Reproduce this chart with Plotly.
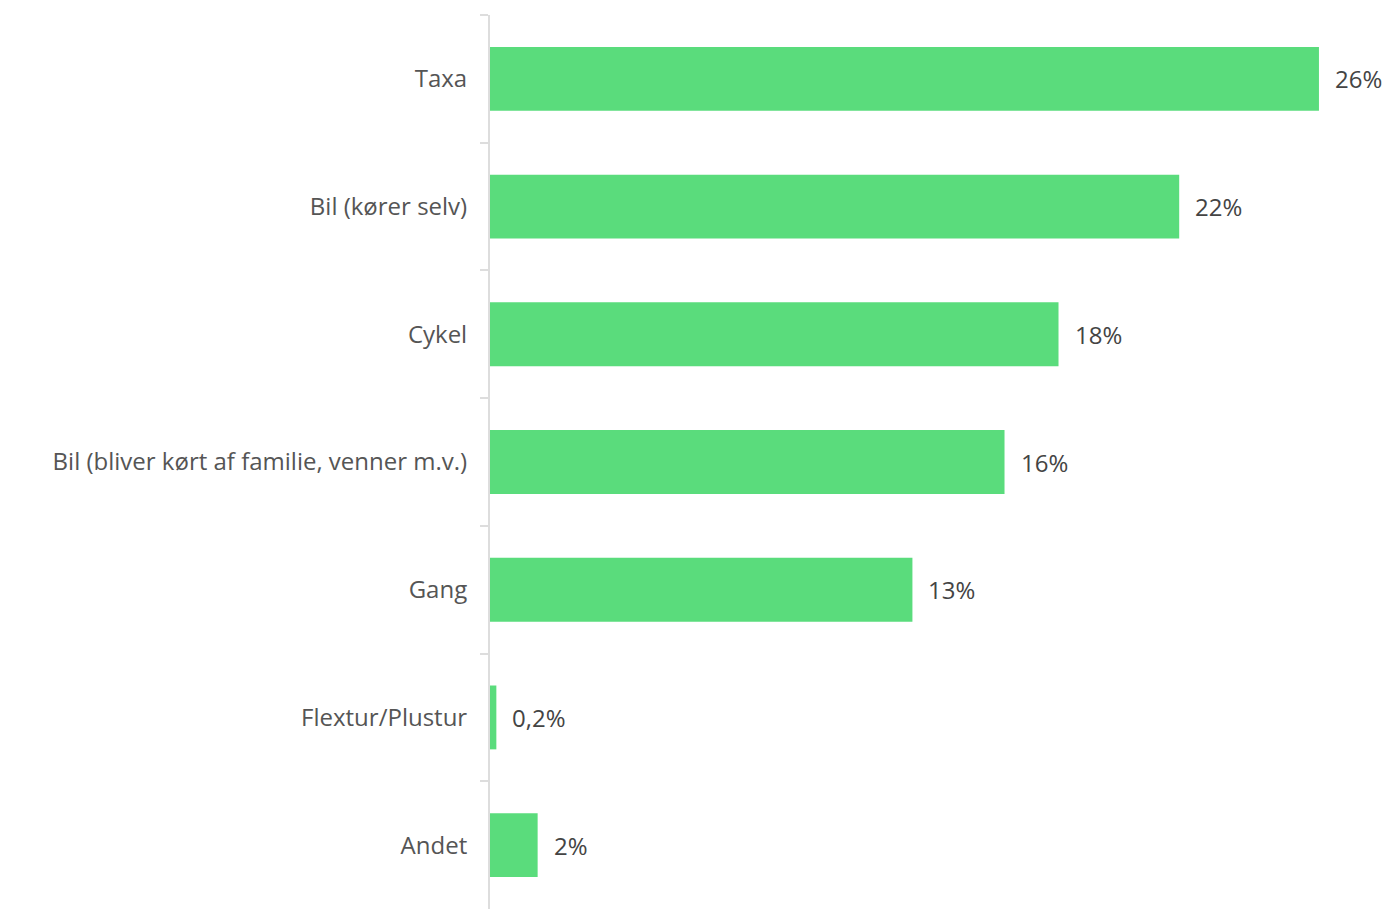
import plotly.graph_objects as go

categories = ["Taxa", "Bil (kører selv)", "Cykel", "Bil (bliver kørt af familie, venner m.v.)",
              "Gang", "Flextur/Plustur", "Andet"]
values = [26.1, 21.7, 17.9, 16.2, 13.3, 0.2, 1.5]
labels = ["26%", "22%", "18%", "16%", "13%", "0,2%", "2%"]

fig = go.Figure(
    go.Bar(
        x=values,
        y=categories,
        orientation="h",
        marker=dict(color="#5ADC7C", line=dict(width=0)),
        hoverinfo="skip",
    )
)

for v, c, t in zip(values, categories, labels):
    fig.add_annotation(x=v, y=c, text=t, showarrow=False, xanchor="left",
                       xshift=14, font=dict(size=24, color="#444444"))

# page body has an 8px margin, so the figure is made 8px smaller
fig.update_layout(
    width=1384,
    height=901,
    margin=dict(l=482, r=0, t=7, b=0),
    paper_bgcolor="white",
    plot_bgcolor="white",
    bargap=0.5,
    showlegend=False,
    font=dict(family="Open Sans, sans-serif", size=23, color="#555555"),
    xaxis=dict(range=[0, 28.4], visible=False, fixedrange=True),
    yaxis=dict(
        autorange="reversed",
        showline=True,
        linecolor="#dddddd",
        linewidth=2,
        ticks="outside",
        tickson="boundaries",
        ticklen=8,
        tickcolor="#dddddd",
        tickwidth=2,
        ticklabelstandoff=16,
        showgrid=False,
        zeroline=False,
        tickfont=dict(size=24, color="#555555"),
    ),
)

fig.write_html("out.html")
